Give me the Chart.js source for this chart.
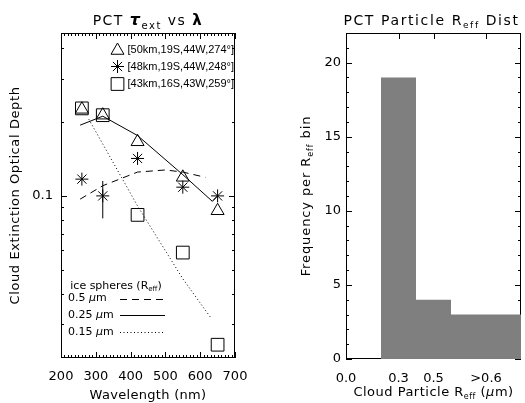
<!DOCTYPE html>
<html>
<head>
<meta charset="utf-8">
<script src="https://cdn.jsdelivr.net/npm/chart.js@4.4.1/dist/chart.umd.min.js"></script>
<style>
  body { margin: 0; background: #fff; }
  canvas { position: absolute; top: 0; }
  #tauChart { left: 0; }
  #reffChart { left: 262px; }
</style>
</head>
<body>
<canvas id="tauChart" width="262" height="403"></canvas>
<canvas id="reffChart" width="263" height="403"></canvas>
<script>
// --- left panel: extinction optical depth vs wavelength ---
const wlObs = [260, 320, 420, 550, 650];
const tauTri = [0.225, 0.213, 0.166, 0.119, 0.087];
const tauStar = [0.117, 0.100, 0.142, 0.1085, 0.100];
const tauSq = [0.227, 0.213, 0.0837, 0.0588, 0.0248];
const errWl = 320;
const errRange = [0.081, 0.115];

// ice sphere model curves
const wl05 = [255, 320, 420, 500, 550, 615];
const tau05 = [0.097, 0.110, 0.125, 0.1275, 0.125, 0.119];
const wl025 = [255, 320, 420, 550, 635, 650];
const tau025 = [0.194, 0.211, 0.176, 0.122, 0.095, 0.100];
const wl015 = [280, 420, 550, 630];
const tau015 = [0.205, 0.091, 0.046, 0.032];

const siteLabels = ['[50km,19S,44W,274°]', '[48km,19S,44W,248°]', '[43km,16S,43W,259°]'];
const modelSizes = ['0.5', '0.25', '0.15'];

// --- right panel: R_eff histogram ---
const binLabels = ['0.0', '0.3', '0.5', '>0.6'];
const binEdges = [0, 1, 2, 3, 5];
const binCounts = [0, 19, 4, 3];
const binLabelPos = [0, 1.5, 2.5, 4];

const FONT = '"DejaVu Sans", sans-serif';
const LFONT = '"Liberation Sans", sans-serif';
const GRAY = '#7f7f7f';

function pts(xs, ys) { return xs.map((x, i) => ({ x: x, y: ys[i] })); }

// draws text made of pieces [text, font, dy], centred on x
function richText(ctx, parts, x, y, spacing) {
  ctx.save();
  ctx.letterSpacing = (spacing || 0) + 'px';
  ctx.textBaseline = 'alphabetic';
  ctx.textAlign = 'left';
  let w = 0;
  parts.forEach(p => { ctx.font = p[1]; w += ctx.measureText(p[0]).width; });
  let cx = x - w / 2;
  parts.forEach(p => {
    ctx.font = p[1];
    ctx.fillText(p[0], cx, y + (p[2] || 0));
    cx += ctx.measureText(p[0]).width;
  });
  ctx.restore();
}

function vText(ctx, parts, x, y, spacing) {
  ctx.save();
  ctx.translate(x, y);
  ctx.rotate(-Math.PI / 2);
  richText(ctx, parts, 0, 0, spacing);
  ctx.restore();
}

function tick(ctx, x1, y1, x2, y2) {
  ctx.beginPath();
  ctx.moveTo(x1, y1);
  ctx.lineTo(x2, y2);
  ctx.stroke();
}

const tauDecor = {
  id: 'tauDecor',
  beforeDatasetsDraw(chart) {
    const { ctx, chartArea: a, scales: { x, y } } = chart;
    ctx.save();
    ctx.strokeStyle = '#000';
    ctx.lineWidth = 1;
    ctx.strokeRect(a.left + 0.5, a.top + 0.5, a.width - 1, a.height - 1);
    // x ticks every 10 nm, longer at 100
    for (let v = x.min; v <= x.max; v += 10) {
      const px = Math.round(x.getPixelForValue(v)) + 0.5;
      const len = v % 100 === 0 ? 6 : 3;
      tick(ctx, px, a.bottom, px, a.bottom - len);
      tick(ctx, px, a.top, px, a.top + len);
    }
    // log y ticks
    for (let d = Math.floor(Math.log10(y.min)); d <= Math.ceil(Math.log10(y.max)); d++) {
      for (let m = 1; m <= 9; m++) {
        const v = m * Math.pow(10, d);
        if (v < y.min || v > y.max) continue;
        const py = Math.round(y.getPixelForValue(v)) + 0.5;
        const len = m === 1 ? 6 : 3;
        tick(ctx, a.left, py, a.left + len, py);
        tick(ctx, a.right, py, a.right - len, py);
      }
    }
    ctx.restore();
  },
  afterDraw(chart) {
    const { ctx, chartArea: a } = chart;
    const cx = (a.left + a.right) / 2;
    ctx.save();
    ctx.fillStyle = '#000';
    richText(ctx, [
      ['PCT ', '14px ' + FONT],
      ['τ', 'bold italic 16px ' + FONT],
      ['ext', '10px ' + FONT, 4],
      [' vs ', '14px ' + FONT],
      ['λ', 'bold 15px ' + FONT]
    ], cx, 25, 1.5);
    richText(ctx, [['Wavelength (nm)', '13px ' + FONT]], cx, 399, 0.3);
    vText(ctx, [['Cloud Extinction Optical Depth', '13px ' + FONT]], 19, (a.top + a.bottom) / 2, 0.6);

    // marker legend (top right)
    const styles = ['triangle', 'star', 'rect'];
    const radii = [7.5, 6.5, 9];
    const rows = [49.5, 66.5, 84];
    ctx.font = '11px ' + LFONT;
    ctx.textBaseline = 'middle';
    styles.forEach((s, i) => {
      ctx.fillStyle = 'rgba(0,0,0,0)';
      ctx.strokeStyle = '#000';
      ctx.lineWidth = 1;
      Chart.helpers.drawPoint(ctx, { pointStyle: s, radius: radii[i], borderWidth: 1, rotation: 0 }, 117.5, rows[i] + (s === 'triangle' ? 1 : 0));
      ctx.fillStyle = '#000';
      ctx.fillText(siteLabels[i], 127.5, rows[i]);
    });

    // model legend (bottom left)
    richText(ctx, [
      ['ice spheres (R', '11px ' + FONT],
      ['eff', '7px ' + FONT, 2],
      [')', '11px ' + FONT]
    ], 116, 289, 0);
    const dashes = [[7, 5], [], [1, 2.5]];
    const lrows = [298.5, 315, 332];
    modelSizes.forEach((s, i) => {
      ctx.fillStyle = '#000';
      ctx.textBaseline = 'middle';
      ctx.font = '11px ' + FONT;
      ctx.fillText(s + ' ', 68, lrows[i]);
      const w = ctx.measureText(s + ' ').width;
      ctx.font = 'italic 11px ' + FONT;
      ctx.fillText('µ', 68 + w, lrows[i]);
      const w2 = ctx.measureText('µ').width;
      ctx.font = '11px ' + FONT;
      ctx.fillText('m', 68 + w + w2, lrows[i]);
      ctx.setLineDash(dashes[i]);
      tick(ctx, 120, Math.round(lrows[i]) + 0.5, 165, Math.round(lrows[i]) + 0.5);
      ctx.setLineDash([]);
    });
    ctx.restore();
  }
};

const markerOpts = (style, r) => ({
  showLine: false,
  pointStyle: style,
  pointRadius: r,
  pointBorderColor: '#000',
  pointBackgroundColor: 'rgba(0,0,0,0)',
  pointBorderWidth: 1
});

const modelOpts = dash => ({
  showLine: true,
  borderColor: '#000',
  borderWidth: 1,
  borderDash: dash,
  pointRadius: 0,
  fill: false
});

new Chart(document.getElementById('tauChart'), {
  type: 'scatter',
  data: {
    datasets: [
      Object.assign({ data: pts(wl05, tau05) }, modelOpts([7, 5])),
      Object.assign({ data: pts(wl025, tau025) }, modelOpts([])),
      Object.assign({ data: pts(wl015, tau015) }, modelOpts([1, 2.5])),
      Object.assign({ data: pts([errWl, errWl], errRange) }, modelOpts([])),
      Object.assign({ data: pts(wlObs, tauTri) }, markerOpts('triangle', 7.5)),
      Object.assign({ data: pts(wlObs, tauStar) }, markerOpts('star', 6.5)),
      Object.assign({ data: pts(wlObs, tauSq) }, markerOpts('rect', 9))
    ]
  },
  options: {
    responsive: false,
    animation: false,
    devicePixelRatio: 1,
    layout: { autoPadding: false, padding: { top: 33, right: 27, left: 0, bottom: 0 } },
    plugins: { legend: { display: false }, tooltip: { enabled: false } },
    scales: {
      x: {
        type: 'linear', min: 200, max: 700,
        grid: { display: false, drawTicks: false },
        border: { display: false },
        ticks: { stepSize: 100, padding: 11, color: '#000', font: { family: FONT, size: 13 }, maxRotation: 0, autoSkip: false, includeBounds: false },
        afterFit: s => { s.height = 45; }
      },
      y: {
        type: 'logarithmic', min: 0.0219, max: 0.46,
        grid: { display: false, drawTicks: false },
        border: { display: false },
        ticks: {
          padding: 8, color: '#000', font: { family: FONT, size: 13 }, autoSkip: false,
          callback: v => Math.abs(v - 0.1) < 1e-9 ? '0.1' : ''
        },
        afterFit: s => { s.width = 61; }
      }
    }
  },
  plugins: [tauDecor]
});

const reffDecor = {
  id: 'reffDecor',
  beforeDatasetsDraw(chart) {
    const { ctx, chartArea: a, scales: { x, y } } = chart;
    ctx.save();
    ctx.strokeStyle = '#000';
    ctx.lineWidth = 1;
    ctx.strokeRect(a.left + 0.5, a.top + 0.5, a.width - 1, a.height - 1);
    for (let v = 0; v <= y.max; v++) {
      const py = Math.round(y.getPixelForValue(v)) + 0.5;
      const len = v % 5 === 0 ? 6 : 3;
      tick(ctx, a.left, py, a.left + len, py);
      tick(ctx, a.right, py, a.right - len, py);
    }
    binLabelPos.forEach(v => {
      if (v === 0) return;
      const px = Math.round(x.getPixelForValue(v)) + 0.5;
      tick(ctx, px, a.top, px, a.top + 6);
      tick(ctx, px, a.bottom, px, a.bottom - 6);
    });
    ctx.restore();
  },
  afterDraw(chart) {
    const { ctx, chartArea: a } = chart;
    const cx = (a.left + a.right) / 2;
    ctx.save();
    ctx.fillStyle = '#000';
    richText(ctx, [
      ['PCT Particle R', '14px ' + FONT],
      ['eff', '9px ' + FONT, 3],
      [' Dist', '14px ' + FONT]
    ], cx - 2, 25, 1.6);
    richText(ctx, [
      ['Cloud Particle R', '13px ' + FONT],
      ['eff', '8px ' + FONT, 3],
      [' (', '13px ' + FONT],
      ['µ', 'italic 13px ' + FONT],
      ['m)', '13px ' + FONT]
    ], cx, 396, 0.5);
    vText(ctx, [
      ['Frequency per R', '13px ' + FONT],
      ['eff', '8px ' + FONT, 3],
      [' bin', '13px ' + FONT]
    ], 48, (a.top + a.bottom) / 2, 0.9);
    ctx.restore();
  }
};

// step outline of the histogram: with stepped 'before', the count at edge i fills [edge i, edge i+1]
const histPts = binEdges.map((e, i) => ({ x: e, y: binCounts[Math.min(i, binCounts.length - 1)] }));
// white dotted separators between adjacent filled bins
const sepSets = [];
for (let i = 2; i < binCounts.length; i++) {
  const h = Math.min(binCounts[i - 1], binCounts[i]);
  sepSets.push({
    data: [{ x: binEdges[i], y: 0 }, { x: binEdges[i], y: h }],
    showLine: true, borderColor: '#fff', borderWidth: 1, borderDash: [1, 2],
    pointRadius: 0, fill: false
  });
}

new Chart(document.getElementById('reffChart'), {
  type: 'scatter',
  data: {
    datasets: [{
      data: histPts,
      showLine: true,
      stepped: 'before',
      fill: 'origin',
      backgroundColor: GRAY,
      borderColor: 'rgba(0,0,0,0)',
      borderWidth: 1,
      pointRadius: 0
    }].concat(sepSets)
  },
  options: {
    responsive: false,
    animation: false,
    devicePixelRatio: 1,
    layout: { autoPadding: false, padding: { top: 33, right: 4, left: 0, bottom: 0 } },
    plugins: { legend: { display: false }, tooltip: { enabled: false } },
    scales: {
      x: {
        type: 'linear', min: 0, max: 5,
        grid: { display: false, drawTicks: false },
        border: { display: false },
        afterBuildTicks: s => { s.ticks = binLabelPos.map(v => ({ value: v })); },
        ticks: {
          padding: 12, color: '#000', font: { family: FONT, size: 13 }, maxRotation: 0, autoSkip: false,
          callback: (v, i) => binLabels[i]
        },
        afterFit: s => { s.height = 44; }
      },
      y: {
        type: 'linear', min: 0, max: 22,
        grid: { display: false, drawTicks: false },
        border: { display: false },
        ticks: { stepSize: 5, padding: 5, color: '#000', font: { family: FONT, size: 13 }, includeBounds: false },
        afterFit: s => { s.width = 84; }
      }
    }
  },
  plugins: [reffDecor]
});
</script>
</body>
</html>
